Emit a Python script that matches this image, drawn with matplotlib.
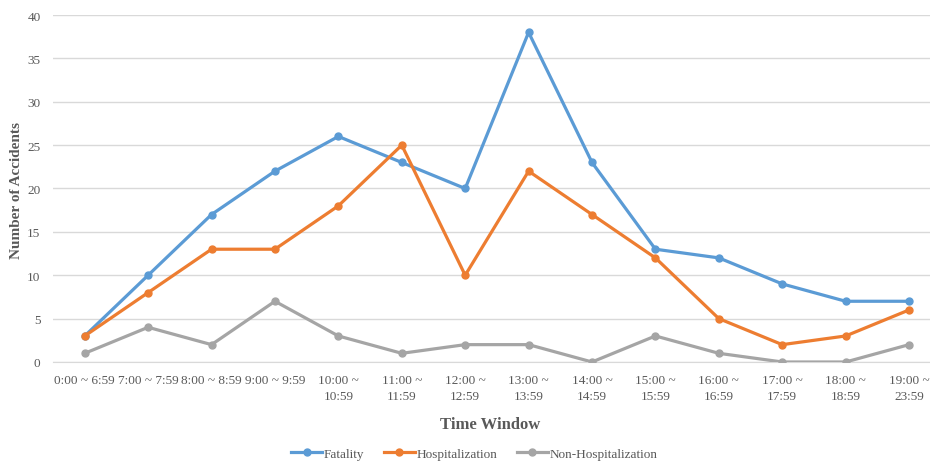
import matplotlib.pyplot as plt

plt.rcParams['font.family'] = ['Liberation Serif', 'DejaVu Serif']

windows = ["0:00 ~ 6:59", "7:00 ~ 7:59", "8:00 ~ 8:59", "9:00 ~ 9:59",
           "10:00 ~\n10:59", "11:00 ~\n11:59", "12:00 ~\n12:59", "13:00 ~\n13:59",
           "14:00 ~\n14:59", "15:00 ~\n15:59", "16:00 ~\n16:59", "17:00 ~\n17:59",
           "18:00 ~\n18:59", "19:00 ~\n23:59"]
fatality = [3, 10, 17, 22, 26, 23, 20, 38, 23, 13, 12, 9, 7, 7]
hospitalization = [3, 8, 13, 13, 18, 25, 10, 22, 17, 12, 5, 2, 3, 6]
non_hospitalization = [1, 4, 2, 7, 3, 1, 2, 2, 0, 3, 1, 0, 0, 2]

series = [("Fatality", fatality, "#5B9BD5"),
          ("Hospitalization", hospitalization, "#ED7D31"),
          ("Non-Hospitalization", non_hospitalization, "#A5A5A5")]

fig = plt.figure(figsize=(9.3, 4.64), dpi=100)
ax = fig.add_axes([0.057, 0.2177, 0.943, 0.7478])

x = list(range(len(windows)))
for name, vals, col in series:
    ax.plot(x, vals, color=col, lw=2.3, marker="o", ms=5, label=name,
            solid_joinstyle="round", zorder=3)

ax.set_ylim(0, 40)
ax.set_yticks(range(0, 41, 5))
ax.set_xlim(-0.5, 13.33)
ax.set_xticks(x)
ax.set_xticklabels(windows, fontsize=9.5, color="#595959", va="top", linespacing=1.4)
ax.tick_params(axis="y", labelsize=9.5, labelcolor="#595959", length=0, pad=9)
ax.tick_params(axis="x", length=0, pad=9)
ax.grid(axis="y", color="#D9D9D9", lw=1)
ax.set_axisbelow(True)
for s in ["top", "right", "left"]:
    ax.spines[s].set_visible(False)
ax.spines["bottom"].set_color("#D9D9D9")

fig.text(17 / 930, 0.59, "Number of Accidents", rotation=90, ha="center", va="center",
         fontsize=11, fontweight="bold", color="#595959")
fig.text(0.527, 0.084, "Time Window", ha="center", va="center",
         fontsize=12, fontweight="bold", color="#595959")

fig.legend(loc="center", bbox_to_anchor=(0.51, 0.02), ncol=3, frameon=False,
           fontsize=9.5, labelcolor="#595959", handlelength=2.35, columnspacing=1.45,
           handletextpad=0.15)

fig.savefig("out.png", dpi=100)
